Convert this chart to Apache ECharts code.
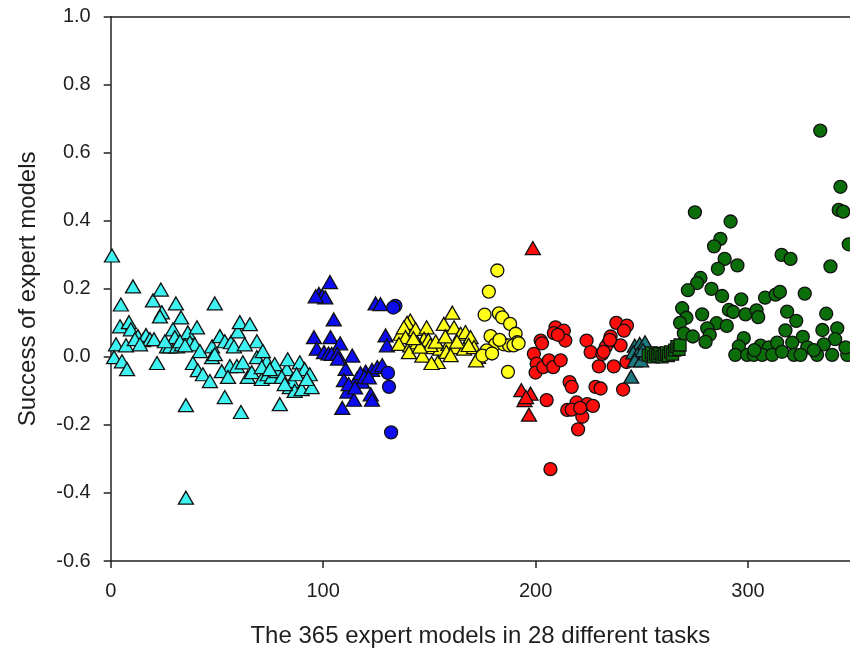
<!DOCTYPE html>
<html>
<head>
<meta charset="utf-8">
<script src="https://cdn.jsdelivr.net/npm/echarts@6/dist/echarts.min.js"></script>
<style>
html,body{margin:0;padding:0;background:#fff;}
#chart{width:850px;height:653px;}
</style>
</head>
<body>
<div id="chart"></div>
<script>
var xTicks = [0, 100, 200, 300];
var yTicks = [-0.6, -0.4, -0.2, 0.0, 0.2, 0.4, 0.6, 0.8, 1.0];

var cyanTriangles = [
[0.6,0.298],[4.8,0.154],[10.5,0.207],[4.4,0.090],[2.5,0.037],[7.2,0.034],[1.6,-0.001],[5.3,-0.013],[7.7,-0.036],
[8.6,0.102],[9.5,0.081],[12.8,0.061],[15.2,0.049],[16.6,0.064],[18.5,0.052],[20.4,0.052],[21.8,-0.018],[19.9,0.166],
[23.6,0.198],[24.1,0.131],[23.2,0.119],[26.5,0.031],[27.9,0.031],[29.3,0.081],[30.7,0.157],[30.2,0.058],[31.2,0.031],
[33.1,0.116],[33.5,0.037],[35.4,-0.142],[35.4,-0.414],[36.3,0.072],[37.3,0.043],[38.7,-0.018],[39.6,0.037],[40.6,0.087],
[41.0,-0.039],[42.0,0.017],[43.4,-0.051],[46.7,-0.071],[47.7,0.031],[47.7,-0.001],[49.0,0.157],[51.4,0.061],[53.7,0.046],
[53.7,-0.118],[56.6,0.043],[56.1,-0.027],[58.0,0.031],[59.4,-0.027],[59.8,0.075],[60.8,0.102],[61.3,-0.162],[62.2,-0.016],
[64.5,-0.059],[65.5,0.096],[66.4,-0.045],[68.8,0.046],[68.8,-0.001],[71.1,-0.065],[73.5,-0.013],[73.9,-0.051],[75.8,-0.059],
[78.2,-0.042],[79.6,-0.139],[82.9,-0.036],[83.3,-0.007],[84.3,-0.089],[85.2,-0.071],[86.6,-0.100],[89.0,-0.016],[89.9,-0.095],
[91.3,-0.036],[93.7,-0.051],[94.6,-0.089],[11.4,0.052],[13.8,0.037],[25.5,0.046],[32.6,0.046],[35.0,0.034],[49.0,0.008],
[52.3,-0.042],[55.2,-0.059],[63.1,0.037],[71.1,-0.030],[77.2,-0.021],[80.5,-0.059],[81.9,-0.080],[87.5,-0.051],[92.3,-0.065],
[71.6,0.017],[74.9,-0.036]
];

var blueTriangles = [
[103.2,0.22],[98,0.185],[99.6,0.18],[101,0.175],[96.5,0.178],[105,0.11],[95.7,0.058],[103.5,0.058],[108,0.04],
[97,0.024],[100.4,0.014],[102.5,0.01],[104,0.009],[106.7,0.009],[113.7,0.004],[110.6,-0.035],[109.8,-0.068],[111.4,-0.102],
[114.5,-0.126],[109,-0.15],[116,-0.063],[118.4,-0.073],[120,-0.043],[123,-0.038],[125.5,-0.03],[127.8,-0.024],[122.4,-0.11],
[123,-0.126],[124.7,0.157],[127,0.155],[129.4,0.063],[130,0.034],[117.6,-0.048],[112,-0.08],[115,-0.09],[119.5,-0.058],
[121.5,-0.06],[107,-0.005]
];
var blueCircles = [[134,0.15],[133,0.145],[130.5,-0.047],[131,-0.088],[132,-0.222]];

var yellowTriangles = [
[141,0.107],[139.5,0.1],[136.5,0.068],[138,0.087],[143.5,0.082],[148.7,0.087],[156.8,0.097],[160.8,0.13],[161.6,0.087],
[138.8,0.058],[147.5,0.053],[149.5,0.05],[135.7,0.038],[141,0.034],[144.3,0.043],[152,0.029],[155,0.024],[159,0.038],
[164.7,0.068],[167,0.073],[169.4,0.058],[146.7,0.004],[154,-0.015],[162.4,0.029],[166.3,0.024],[171,0.029],[172.9,0],
[172,-0.01],[140.4,0.014],[150.5,0.035],[153,0.045],[157.5,0.06],[145.5,0.03],[158,0.015],[163,0.045],[168.5,0.035],
[142.5,0.055],[151,-0.018],[160,0.005]
];
var yellowCircles = [
[182,0.254],[178,0.192],[176,0.124],[182.7,0.128],[184.3,0.116],[188,0.097],[190.6,0.068],[191.4,0.043],[178.8,0.061],
[181,0.037],[177,0.019],[175,0.004],[185,0.037],[187.5,0.034],[189.6,0.034],[192,0.04],[187,-0.044],[183,0.05],[179.5,0.01]
];

var redTriangles = [[198.7,0.32],[193.3,-0.098],[197.6,-0.108],[194.8,-0.127],[196.9,-0.17],[195.5,-0.118]];
var redCircles = [
[199.2,0.009],[202.4,0.048],[203,0.04],[200.5,-0.02],[200,-0.046],[203.6,-0.03],[206.3,-0.01],[208.3,-0.03],[211.8,-0.01],
[209.4,0.087],[213.3,0.077],[208.6,0.07],[214,0.048],[205.2,-0.127],[207,-0.33],[216,-0.074],[217,-0.088],[224,0.048],
[225.9,0.014],[229.8,-0.028],[236.8,-0.028],[228.2,-0.088],[230.6,-0.093],[219.3,-0.134],[214.9,-0.156],[217,-0.155],
[224.3,-0.139],[227,-0.144],[222,-0.176],[220,-0.213],[238,0.1],[243,0.092],[241.6,0.077],[235.3,0.06],[234.5,0.043],
[233,0.029],[231.4,0.009],[240,0.034],[241.2,-0.096],[242.8,-0.015],[210.5,0.065],[221,-0.15],[232,0.015],[235,0.05]
];

var tealTriangles = [
[246.7,0.033],[249,0.038],[251.5,0.043],[246,0.013],[248,0.008],[246.7,-0.01],[249.7,-0.01],[245,-0.058],[252,0.01],[250.5,0.02]
];
var greenSquares = [
[253,0.005],[254.5,0.012],[255.5,0.0],[256.5,0.008],[257.5,0.003],[258.5,0.01],[259.5,0.0],[260.5,0.007],[261.5,0.012],
[262.5,0.004],[263.5,0.015],[264.5,0.008],[265.5,0.02],[266.5,0.03],[267.5,0.022],[268,0.035]
];
var greenCircles = [
[334,0.665],[343.5,0.5],[342.7,0.432],[344.8,0.427],[347.4,0.331],[338.8,0.266],[275,0.425],[291.8,0.398],[287,0.347],
[284,0.325],[289,0.288],[285.8,0.259],[295,0.269],[315.8,0.3],[320,0.288],[277.6,0.232],[276,0.217],[271.7,0.196],
[282.8,0.2],[287.8,0.179],[296.8,0.169],[308,0.174],[313,0.183],[315,0.191],[326.7,0.186],[269,0.143],[271,0.115],
[268,0.1],[278.4,0.125],[291,0.138],[293,0.132],[298.8,0.125],[304,0.137],[304.8,0.117],[318.4,0.133],[322.7,0.106],
[336.8,0.127],[342,0.084],[285.2,0.099],[290,0.091],[280.8,0.084],[282,0.065],[280,0.044],[269.8,0.069],[274,0.06],
[317.6,0.078],[335,0.079],[298,0.055],[325.8,0.059],[341,0.052],[295.7,0.031],[305.9,0.033],[309.8,0.028],[313.7,0.042],
[320.8,0.042],[327.9,0.028],[335.7,0.037],[294,0.006],[299.6,0.006],[302.7,0.006],[306.7,0.006],[311.4,0.006],[321.6,0.006],
[324.7,0.006],[332.5,0.006],[339.6,0.006],[346.7,0.006],[345.9,0.028],[331,0.02],[316,0.015],[303,0.02]
];

var FONT = '"Liberation Sans", Arial, sans-serif';
var TXT = '#1e1e1e';

function sc(data, symbol, color, size) {
  return {
    type: 'scatter', data: data, symbol: symbol, symbolSize: size,
    xAxisIndex: 0, yAxisIndex: 0,
    itemStyle: { color: color, borderColor: '#111', borderWidth: 1.3, opacity: 1 },
    emphasis: { disabled: true }, animation: false
  };
}

var TRI = [15, 13];
var CIR = 13;

var chart = echarts.init(document.getElementById('chart'), null, { renderer: 'canvas' });
chart.setOption({
  backgroundColor: '#fff',
  animation: false,
  grid: { left: 110.7, right: 0, top: 16.7, bottom: 90 },
  xAxis: [{
    type: 'value', min: 0, max: 348, interval: 100,
    name: 'The 365 expert models in 28 different tasks',
    nameLocation: 'middle', nameGap: 63,
    nameTextStyle: { fontFamily: FONT, fontSize: 24, color: TXT },
    axisLine: { show: true, onZero: false, lineStyle: { color: '#222', width: 1.5 } },
    axisTick: { show: true, length: 7, lineStyle: { color: '#222', width: 1.5 } },
    axisLabel: { fontFamily: FONT, fontSize: 20, color: TXT, margin: 20, showMaxLabel: false,
      formatter: function (v) { return xTicks.indexOf(v) >= 0 ? String(v) : ''; } },
    splitLine: { show: false }
  }, {
    type: 'value', position: 'top', min: 0, max: 348,
    axisLine: { show: true, onZero: false, lineStyle: { color: '#222', width: 1.5 } },
    axisTick: { show: false }, axisLabel: { show: false }, splitLine: { show: false }
  }],
  yAxis: {
    type: 'value', min: -0.6, max: 1.0, interval: 0.2,
    name: 'Success of expert models',
    nameLocation: 'middle', nameGap: 70,
    nameTextStyle: { fontFamily: FONT, fontSize: 24, color: TXT },
    axisLine: { show: true, onZero: false, lineStyle: { color: '#222', width: 1.5 } },
    axisTick: { show: true, length: 7, lineStyle: { color: '#222', width: 1.5 } },
    axisLabel: { fontFamily: FONT, fontSize: 20, color: TXT, margin: 20,
      formatter: function (v) {
        var m = yTicks.filter(function (t) { return Math.abs(t - v) < 1e-6; });
        return m.length ? m[0].toFixed(1) : '';
      } },
    splitLine: { show: false }
  },
  series: [
    sc(cyanTriangles, 'triangle', '#3ef2f2', TRI),
    sc(blueTriangles, 'triangle', '#0d0df0', TRI),
    sc(blueCircles, 'circle', '#0d0df0', CIR),
    sc(yellowTriangles, 'triangle', '#ffff1a', TRI),
    sc(yellowCircles, 'circle', '#ffff1a', CIR),
    sc(redTriangles, 'triangle', '#ff0d0d', TRI),
    sc(redCircles, 'circle', '#ff0d0d', CIR),
    sc(tealTriangles, 'triangle', '#1d7a80', TRI),
    sc(greenSquares, 'rect', '#0b720b', 12),
    sc(greenCircles, 'circle', '#0b6e0b', CIR)
  ]
});
</script>
</body>
</html>
